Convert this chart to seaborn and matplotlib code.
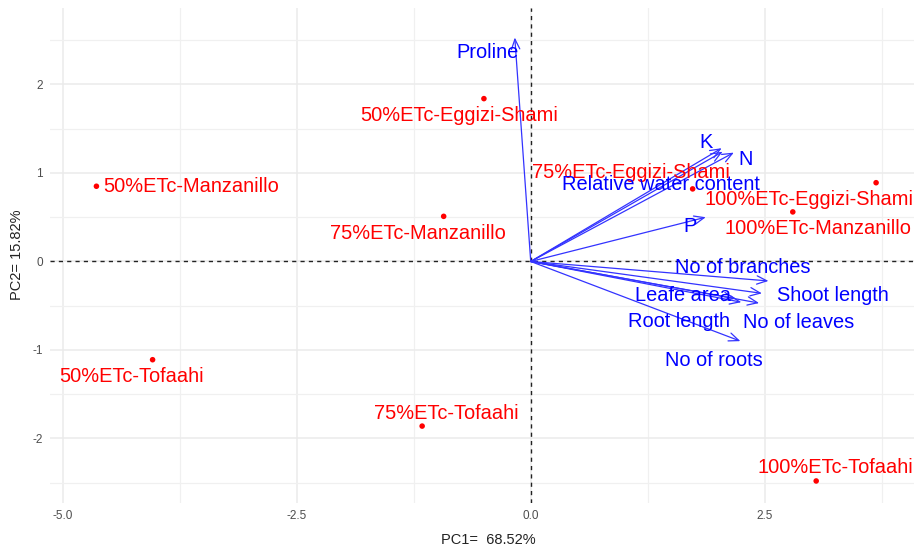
import numpy as np
import pandas as pd
import matplotlib
matplotlib.use("Agg")
import matplotlib.pyplot as plt
import seaborn as sns

# ── Data: PCA scores (treatments) ─────────────────
treatments = ["50%ETc-Manzanillo", "75%ETc-Manzanillo", "100%ETc-Manzanillo",
              "50%ETc-Eggizi-Shami", "75%ETc-Eggizi-Shami", "100%ETc-Eggizi-Shami",
              "50%ETc-Tofaahi", "75%ETc-Tofaahi", "100%ETc-Tofaahi"]
pc1_scores = [-4.64, -0.93, 2.80, -0.50, 1.73, 3.69, -4.04, -1.16, 3.05]
pc2_scores = [0.85, 0.51, 0.56, 1.84, 0.82, 0.89, -1.11, -1.86, -2.48]

# ── Data: variable loadings (arrows) ──────────────
variables = ["Proline", "K", "N", "Relative water content", "P",
             "No of branches", "Shoot length", "No of leaves", "Leafe area",
             "Root length", "No of roots"]
pc1_load = [-0.17, 2.04, 2.17, 2.05, 1.87, 2.54, 2.47, 2.44, 2.25, 2.19, 2.24]
pc2_load = [2.53, 1.28, 1.23, 1.24, 0.50, -0.22, -0.36, -0.47, -0.46, -0.42, -0.90]

# label offsets in pixels (repel-like placement)
score_offsets = [(7, 0), (-26, -17), (25, -17), (-25, -17), (-62, 16),
                 (-67, -17), (-21, -17), (24, 13), (19, 13)]
score_ha = ["left", "center", "center", "center", "center",
            "center", "center", "center", "center"]
load_offsets = [(-27, -15), (-16, 6), (12, -7), (-62, -33), (-16, -9),
                (-26, 13), (71, -2), (40, -19), (-58, 7), (-57, -23), (-27, -19)]

scores = pd.DataFrame({"PC1": pc1_scores, "PC2": pc2_scores, "label": treatments})

sns.set_theme(style="whitegrid")
plt.rcParams["font.family"] = ["Liberation Sans", "DejaVu Sans"]
plt.rcParams["axes.unicode_minus"] = False

fig = plt.figure(figsize=(9.14, 5.48), dpi=100)
ax = fig.add_axes([50 / 914, 45 / 548, 864 / 914, 495 / 548])

# grid
ax.set_xlim(-5.136, 4.095)
ax.set_ylim(-2.729, 2.864)
ax.set_xticks([-5.0, -2.5, 0.0, 2.5])
ax.set_xticklabels(["-5.0", "-2.5", "0.0", "2.5"])
ax.set_yticks([-2, -1, 0, 1, 2])
ax.set_xticks([-3.75, -1.25, 1.25, 3.75], minor=True)
ax.set_yticks([-2.5, -1.5, -0.5, 0.5, 1.5, 2.5], minor=True)
ax.grid(which="major", color="#EBEBEB", linewidth=1.1)
ax.grid(which="minor", color="#F0F0F0", linewidth=0.9)
ax.set_facecolor("white")
for s in ax.spines.values():
    s.set_visible(False)
ax.tick_params(axis="both", which="major", length=3, width=0.8, color="#4D4D4D",
               labelsize=8.5, labelcolor="#4D4D4D", pad=2)
ax.tick_params(axis="both", which="minor", length=0)

# reference lines
ax.axhline(0, color="#222222", linestyle=(0, (3, 3)), linewidth=1.0, zorder=2)
ax.axvline(0, color="#222222", linestyle=(0, (3, 3)), linewidth=1.0, zorder=2)

# scores
sns.scatterplot(data=scores, x="PC1", y="PC2", color="red", s=16,
                edgecolor="none", ax=ax, zorder=4)
for i, lab in enumerate(treatments):
    ax.annotate(lab, (pc1_scores[i], pc2_scores[i]), xytext=score_offsets[i],
                textcoords="offset pixels", ha=score_ha[i], va="center",
                color="red", fontsize=14.4, zorder=5, annotation_clip=False)

# loadings
for i, lab in enumerate(variables):
    ax.annotate("", xy=(pc1_load[i], pc2_load[i]), xytext=(0, 0),
                arrowprops=dict(arrowstyle="->,head_length=0.6,head_width=0.25",
                                color="#3333FF", lw=0.9, shrinkA=0, shrinkB=0),
                zorder=3)
    ax.annotate(lab, (pc1_load[i], pc2_load[i]), xytext=load_offsets[i],
                textcoords="offset pixels", ha="center", va="center",
                color="blue", fontsize=14.4, zorder=5)

ax.set_xlabel("PC1=  68.52%", fontsize=10.5, color="#222222")
ax.set_ylabel("PC2= 15.82%", fontsize=10.5, color="#222222")
ax.xaxis.set_label_coords((488 - 50) / 864, -30 / 495)
ax.yaxis.set_label_coords(-26 / 864, (503 - 255) / 495)

fig.savefig("out.png", dpi=100)
